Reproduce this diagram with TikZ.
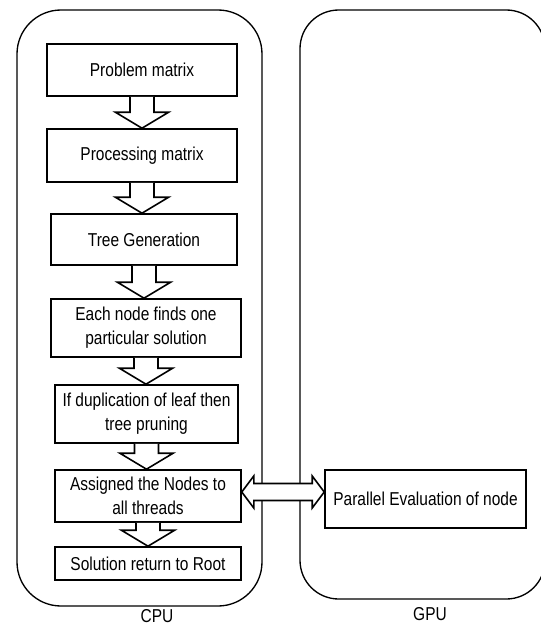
\documentclass[tikz,border=0pt]{standalone}
\usepackage{fontspec}
\setmainfont{Liberation Sans}[FakeStretch=0.83]
\usetikzlibrary{calc}
\tikzset{
  box/.style={draw=black, line width=1.2pt, fill=white, align=center, inner sep=0pt,
    font=\fontsize{14}{18}\selectfont},
  container/.style={draw=black, line width=1pt},
  blockarrow/.style={draw=black, line width=1.2pt, fill=white, line join=miter},
  lbl/.style={font=\fontsize{14}{16}\selectfont, inner sep=0pt}
}
\newcommand\blockdownarrow[2]{%
  \draw[blockarrow] let \p1=(#1.south), \p2=(#2.north) in
    (\x1-9pt,\y1) -- (\x1-9pt,\y2+12pt) -- (\x1-20pt,\y2+12pt) -- (\x1,\y2)
    -- (\x1+20pt,\y2+12pt) -- (\x1+9pt,\y2+12pt) -- (\x1+9pt,\y1);}
\begin{document}
\begin{tikzpicture}[x=0.75pt, y=-0.75pt]
\useasboundingbox (0,0) rectangle (540,625);
% containers
\draw[container, rounded corners=33pt] (17,10) rectangle (262,606);
\draw[container, rounded corners=29pt] (300,10) rectangle (545,599);
% boxes
\node[box, minimum width=190*0.75pt, minimum height=52*0.75pt] (prob) at (142,70) {Problem matrix};
\node[box, minimum width=190*0.75pt, minimum height=53*0.75pt] (proc) at (142,155.5) {Processing matrix};
\node[box, minimum width=186*0.75pt, minimum height=51*0.75pt] (tree) at (144,239.5) {Tree Generation};
\node[box, minimum width=190*0.75pt, minimum height=58*0.75pt] (each) at (146,328) {Each node finds one\\particular solution};
\node[box, minimum width=183*0.75pt, minimum height=58*0.75pt] (dup) at (146.5,414) {If duplication of leaf then\\tree pruning};
\node[box, minimum width=186*0.75pt, minimum height=52*0.75pt] (assign) at (148,496) {Assigned the Nodes to\\all threads};
\node[box, minimum width=186*0.75pt, minimum height=33*0.75pt] (sol) at (148,563.5) {Solution return to Root};
\node[box, minimum width=201*0.75pt, minimum height=58*0.75pt] (par) at (425.5,499) {Parallel Evaluation of node};
% labels
\node[lbl] (cpu) at (157,616) {CPU};
\node[lbl] (gpu) at (430,614) {GPU};
% down arrows
\blockdownarrow{prob}{proc}
\blockdownarrow{proc}{tree}
\blockdownarrow{tree}{each}
\blockdownarrow{each}{dup}
\blockdownarrow{dup}{assign}
\blockdownarrow{assign}{sol}
% double arrow
\coordinate (dbl) at (0,492);
\draw[blockarrow] let \p1=(assign.east), \p2=(par.west), \p3=(dbl) in
  (\x1,\y3) -- (\x1+9pt,\y3+12pt) -- (\x1+9pt,\y3+6.4pt) -- (\x2-9pt,\y3+6.4pt)
  -- (\x2-9pt,\y3+12pt) -- (\x2,\y3) -- (\x2-9pt,\y3-12pt) -- (\x2-9pt,\y3-6.4pt)
  -- (\x1+9pt,\y3-6.4pt) -- (\x1+9pt,\y3-12pt) -- cycle;
\end{tikzpicture}
\end{document}
